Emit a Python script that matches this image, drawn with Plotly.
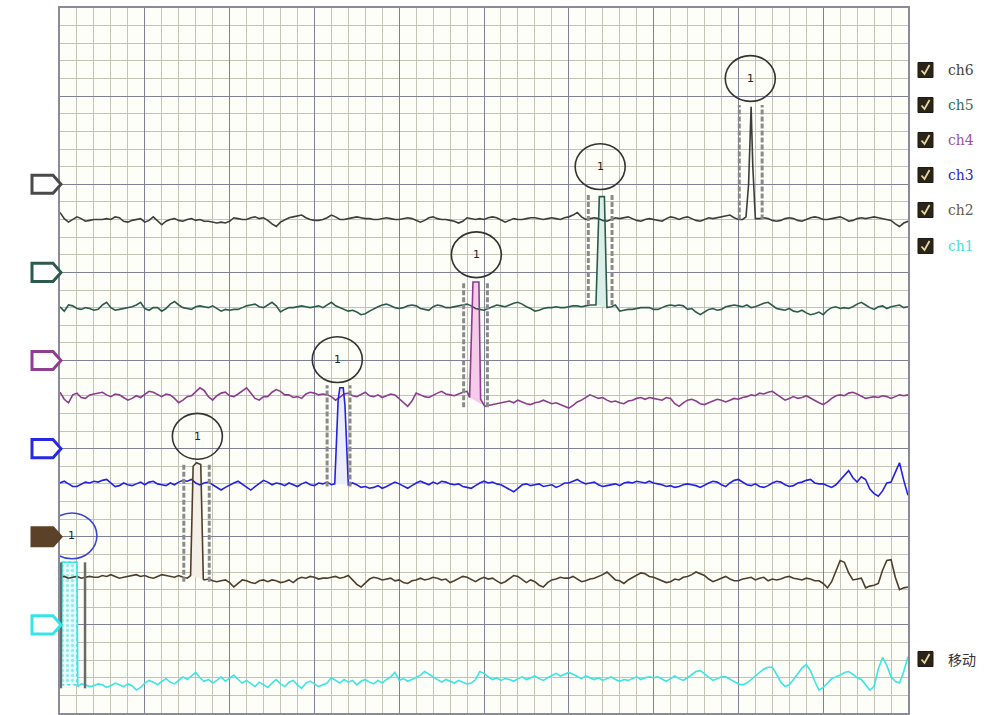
import plotly.graph_objects as go

# ---------------- data ----------------
# sample times (x axis units, 10 units per major division)
time = [i * 0.5 for i in range(201)]

channels = ["ch6", "ch5", "ch4", "ch3", "ch2", "ch1"]
baseline = {"ch6": 56.1, "ch5": 46.1, "ch4": 36.1, "ch3": 25.9, "ch2": 15.4, "ch1": 3.2}
marker_level = {"ch6": 60, "ch5": 50, "ch4": 40, "ch3": 30, "ch2": 20, "ch1": 10}

ch6_dev = [0.7, 0.0, -0.4, -0.1, 0.2, 0.0, -0.3, -0.2, -0.1, -0.1, -0.1, 0.0, -0.1, 0.2, 0.1, -0.3, -0.4, -0.2, -0.1, 0.0,
           -0.4, -0.2, 0.2, -0.3, -0.7, -0.3, -0.1, 0.0, -0.2, -0.3, -0.1, 0.0, -0.2, -0.1, -0.3, -0.3, -0.4, -0.5, -0.4, -0.5,
           -0.3, 0.1, 0.0, -0.1, -0.1, 0.1, 0.2, 0.0, 0.1, -0.2, -0.6, -0.9, -0.4, -0.1, 0.1, 0.2, 0.3, 0.4, 0.1, -0.1,
           -0.2, -0.2, -0.1, 0.1, 0.4, 0.2, -0.1, -0.1, 0.0, 0.1, 0.2, 0.1, 0.0, 0.0, -0.1, -0.1, 0.0, 0.1, 0.0, -0.1,
           -0.1, 0.0, 0.1, 0.0, -0.2, -0.4, -0.2, 0.1, 0.2, 0.0, -0.1, -0.1, -0.2, -0.3, -0.5, -0.3, 0.1, 0.0, -0.1, 0.0,
           -0.1, 0.1, 0.2, 0.1, -0.2, -0.4, -0.2, 0.0, -0.1, -0.1, 0.0, 0.1, 0.1, 0.0, -0.1, 0.0, 0.1, 0.0, -0.1, 0.1,
           0.2, 0.4, 0.7, 0.2, -0.1, 0.0, 0.1, 0.0, -0.2, -0.3, -0.1, 0.1, 0.0, 0.1, 0.2, 0.0, -0.2, -0.3, -0.1, 0.0,
           -0.1, -0.2, -0.3, 0.0, 0.2, 0.1, -0.1, 0.1, 0.2, 0.0, -0.2, -0.3, -0.1, 0.1, 0.0, 0.1, 0.2, 0.3, 0.4, 0.1,
           -0.1, -0.1, 0.0, 0.0, 0.1, 0.0, 0.1, 0.0, -0.2, -0.3, -0.2, 0.0, 0.1, 0.0, -0.2, -0.3, -0.1, 0.1, 0.2, 0.1,
           -0.1, -0.1, 0.0, 0.1, 0.2, 0.0, -0.3, -0.2, 0.0, 0.1, 0.0, 0.1, 0.2, 0.1, 0.0, -0.1, -0.2, -0.6, -0.9, -0.5, -0.3]

ch5_dev = [0.0, -0.5, 0.2, 0.1, -0.2, -0.3, -0.1, -0.2, -0.4, -0.3, 0.2, 0.5, -0.1, -0.4, -0.3, -0.2, -0.1, 0.0, 0.2, 0.5,
           -0.2, -0.4, -0.1, -0.1, -0.5, -0.2, 0.3, 0.6, 0.2, -0.1, -0.2, -0.3, 0.0, 0.1, 0.0, -0.1, 0.1, -0.2, -0.5, -0.3,
           -0.4, -0.3, -0.3, -0.1, 0.1, 0.2, 0.3, 0.0, -0.1, 0.2, 0.5, 0.1, -0.6, -0.3, -0.1, -0.1, 0.0, 0.1, 0.0, -0.1,
           0.0, 0.1, -0.1, 0.2, 0.5, 0.1, -0.1, -0.3, -0.5, -0.4, -0.6, -0.9, -0.8, -0.5, -0.2, 0.0, 0.2, 0.3, 0.1, -0.1,
           -0.2, -0.1, 0.1, 0.2, 0.1, -0.2, -0.3, -0.4, 0.0, 0.2, 0.1, -0.1, -0.1, 0.0, 0.1, 0.2, 0.3, 0.1, -0.2, -0.3,
           -0.4, -0.2, 0.0, 0.2, 0.1, 0.0, 0.2, 0.4, 0.5, 0.3, 0.0, -0.2, -0.5, -0.4, -0.2, -0.1, -0.1, 0.0, -0.1, -0.1,
           0.0, 0.1, 0.1, 0.0, 0.1, 0.2, 0.2, 0.1, 0.0, 0.0, 0.0, 0.2, -0.5, -0.4, -0.3, -0.3, -0.2, -0.1, -0.1, -0.1,
           -0.3, -0.3, -0.1, 0.1, 0.2, 0.1, 0.2, 0.1, -0.3, -0.2, -0.6, -0.9, -0.6, -0.3, -0.2, -0.4, -0.3, 0.0, 0.1, 0.2,
           0.1, 0.0, 0.2, -0.1, 0.0, 0.2, 0.4, 0.5, 0.1, -0.2, -0.3, -0.4, -0.2, -0.5, -0.6, -0.4, -0.7, -0.9, -0.8, -0.6,
           -0.9, -0.4, -0.1, 0.0, -0.2, -0.1, -0.2, 0.0, 0.3, 0.5, 0.2, -0.1, -0.3, 0.0, 0.1, -0.2, 0.0, 0.1, 0.2, -0.1, 0.0]

ch4_dev = [0.3, -0.5, -0.9, 0.0, 0.2, -0.3, -0.4, 0.0, 0.1, 0.2, 0.3, 0.0, -0.2, 0.1, 0.0, -0.3, -0.6, -0.4, -0.1, -0.3,
           0.1, 0.4, 0.3, 0.0, -0.2, 0.1, 0.0, -0.4, -0.9, -0.6, -0.2, -0.1, 0.3, 0.8, 0.5, -0.2, -0.6, -0.1, 0.2, 0.3,
           -0.1, -0.2, 0.1, 0.4, 0.8, 0.2, -0.4, -0.6, -0.2, -0.2, 0.3, 0.6, 0.4, 0.0, 0.0, -0.3, -0.2, -0.4, 0.1, 0.3,
           0.2, 0.0, 0.1, 0.0, -0.2, -0.6, -0.3, 0.1, 0.2, -0.1, -0.2, 0.1, 0.3, -0.1, -0.2, 0.0, -0.3, -0.1, 0.1, 0.0,
           -0.4, -0.8, -1.3, -0.7, 0.2, 0.0, -0.2, -0.3, 0.0, 0.2, 0.4, 0.1, 0.0, -0.1, 0.1, 0.3, 0.4, 0.2, 0.0, -1.0,
           -1.3, -1.2, -1.1, -1.0, -0.9, -0.8, -0.7, -0.9, -0.6, -0.8, -1.0, -1.1, -0.9, -0.8, -0.6, -0.8, -1.0, -0.9, -1.1, -1.3,
           -1.5, -1.2, -0.8, -0.6, -0.3, 0.0, -0.2, -0.4, -0.3, -0.6, -0.8, -0.7, -0.9, -1.0, -0.7, -0.6, -0.4, -0.3, -0.5, -0.3,
           -0.4, -0.5, -0.6, -0.3, -0.4, -1.0, -1.3, -0.9, -0.6, -0.5, -0.7, -1.0, -1.1, -0.9, -0.7, -0.5, -0.6, -0.8, -0.6, -0.4,
           -0.5, -0.3, -0.2, 0.0, -0.1, 0.2, 0.1, 0.3, 0.4, 0.1, -0.3, -0.6, -0.4, -0.2, -0.4, -0.3, -0.1, -0.4, -0.7, -0.9,
           -1.1, -0.8, -0.4, -0.1, 0.0, -0.1, 0.2, 0.3, 0.1, -0.2, -0.4, -0.3, -0.2, -0.3, -0.1, -0.2, -0.4, -0.2, 0.0, -0.1, 0.0]

ch3_dev = [0.2, 0.4, 0.1, -0.2, -0.2, 0.1, 0.3, 0.2, 0.4, 0.3, 0.5, 0.6, 0.2, -0.2, -0.1, 0.2, 0.0, -0.1, 0.1, 0.3,
           0.0, 0.3, 0.4, 0.1, 0.0, -0.1, 0.2, 0.0, 0.3, 0.5, 0.4, 0.6, 0.2, 0.0, 0.2, 0.3, 0.0, -0.3, -0.6, -0.3,
           0.0, 0.2, 0.4, 0.1, -0.3, -0.6, -0.2, 0.2, 0.5, 0.3, 0.0, 0.2, 0.1, -0.1, 0.2, 0.0, -0.2, 0.1, 0.3, 0.0,
           -0.1, 0.2, 0.1, 0.3, 0.0, 0.2, 0.1, 0.2, 0.1, 0.2, 0.0, -0.3, -0.2, -0.4, -0.3, -0.1, -0.4, -0.2, 0.1, 0.3,
           0.1, -0.2, -0.4, -0.1, 0.2, 0.4, 0.2, 0.0, 0.3, 0.1, 0.4, 0.3, 0.1, 0.0, 0.1, -0.2, -0.3, -0.4, -0.1, 0.2,
           0.4, 0.2, 0.3, 0.1, 0.0, -0.3, -0.6, -0.8, -0.4, 0.0, 0.1, -0.1, 0.0, 0.1, -0.2, -0.1, 0.0, -0.3, -0.1, 0.2,
           0.2, 0.4, 0.6, 0.3, 0.1, 0.2, 0.3, 0.0, -0.2, -0.1, 0.0, 0.1, -0.1, 0.2, 0.3, 0.2, 0.4, 0.3, 0.2, 0.4,
           0.2, 0.1, 0.0, -0.2, -0.1, -0.3, -0.2, 0.0, 0.1, 0.0, -0.1, -0.3, 0.0, 0.2, 0.4, 0.3, 0.0, -0.2, 0.2, 0.5,
           0.6, 0.3, 0.0, -0.1, 0.1, -0.2, -0.3, -0.1, 0.2, 0.4, 0.3, 0.0, -0.2, -0.1, 0.2, 0.3, 0.5, 0.6, 0.2, 0.1,
           0.1, -0.1, -0.3, 0.0, 0.5, 1.1, 1.6, 0.8, 0.3, 0.9, 0.6, -0.5, -1.0, -1.3, -0.7, 0.2, 0.3, 1.4, 2.5, 0.5, -1.2]

ch2_dev = [0.0, 0.1, -0.1, 0.0, 0.1, -0.1, 0.0, 0.1, 0.0, 0.0, 0.2, 0.1, 0.3, 0.1, -0.1, 0.0, 0.1, 0.2, 0.3, 0.1,
           0.2, 0.0, -0.1, 0.1, 0.3, 0.2, 0.1, 0.0, 0.2, 0.0, -0.1, 0.0, 0.0, 0.0, -0.3, -0.2, -0.4, -0.5, -0.4, -0.3,
           -0.6, -1.1, -0.7, -0.3, -0.4, -0.6, -0.7, -0.4, -0.3, -0.5, -0.3, -0.4, -0.6, -0.5, -0.3, -0.6, -0.2, 0.0, -0.1, 0.1,
           0.0, -0.2, -0.1, -0.1, 0.0, 0.1, -0.1, 0.0, 0.2, -0.3, -0.8, -1.1, -0.6, -0.2, 0.0, -0.1, -0.3, -0.2, -0.1, -0.4,
           -0.3, -0.6, -0.7, -0.4, -0.3, -0.1, -0.3, -0.2, 0.0, -0.1, -0.3, -0.2, -0.6, -0.4, -0.1, 0.1, 0.0, -0.3, -0.5, -0.2,
           0.0, -0.2, -0.1, -0.4, -0.7, -0.5, -0.1, 0.2, 0.1, -0.3, -0.6, -0.3, -0.5, -0.9, -1.1, -0.6, -0.3, -0.2, 0.0, -0.1,
           -0.1, 0.1, -0.2, -0.5, -0.4, -0.2, -0.1, 0.1, 0.3, 0.6, 0.2, -0.3, -0.4, -0.7, -0.3, 0.0, 0.2, 0.5, 0.4, 0.1,
           0.0, -0.2, -0.4, -0.6, -0.5, -0.2, -0.3, 0.0, 0.1, 0.3, 0.6, 0.4, 0.2, -0.2, -0.5, -0.3, -0.1, 0.1, -0.2, -0.4,
           -0.4, -0.2, -0.1, 0.0, -0.3, -0.1, 0.0, -0.4, -0.2, -0.3, -0.2, 0.0, 0.1, -0.1, -0.2, -0.3, -0.1, -0.2, -0.4, -0.4,
           -0.7, -1.2, -0.5, 0.6, 1.9, 1.7, 0.5, -0.3, -0.2, -0.1, -1.2, -1.0, -0.9, -0.7, 0.8, 1.9, 2.0, 0.0, -1.4, -1.2, -1.1]

ch1_dev = [0.2, 0.1, 0.0, 0.1, 0.0, 0.1, 0.0, -0.2, -0.1, 0.1, 0.0, -0.3, -0.1, 0.2, 0.0, -0.2, 0.1, -0.1, -0.6, -0.3,
           0.2, 0.5, 0.3, 0.0, 0.4, 0.7, 0.3, 0.1, 0.5, 0.9, 0.6, 1.0, 1.4, 0.8, 0.4, 0.6, 0.2, 0.5, 0.9, 0.4,
           0.7, 1.1, 0.6, 0.2, 0.5, 0.1, -0.2, 0.3, 0.0, -0.3, 0.2, 0.6, 0.1, -0.2, 0.3, 0.5, 0.0, -0.4, 0.2, 0.4,
           0.1, -0.2, 0.0, 0.2, 0.8, 0.5, 0.2, 0.6, 0.3, 0.5, 0.0, 0.4, 0.6, 0.3, 0.1, 0.5, 0.2, 0.6, 0.9, 1.4,
           0.5, 0.7, 0.4, 0.6, 0.9, 1.1, 1.5, 1.2, 0.9, 0.5, 0.3, 0.6, 0.4, 0.2, 0.5, 0.3, 0.1, 0.2, 0.6, 1.5,
           1.3, 0.9, 0.6, 0.8, 0.5, 0.7, 0.6, 0.4, 0.7, 0.9, 0.6, 0.8, 1.0, 0.7, 0.5, 0.8, 1.1, 1.3, 1.0, 1.2,
           1.4, 1.2, 0.9, 0.7, 1.0, 0.8, 0.6, 0.8, 0.5, 0.7, 0.9, 0.6, 0.4, 0.6, 0.5, 0.7, 0.9, 0.6, 0.8, 0.9,
           0.8, 0.9, 0.6, 0.4, 0.7, 1.0, 0.7, 0.5, 0.8, 1.2, 1.5, 1.6, 1.2, 0.8, 0.5, 0.7, 0.9, 0.9, 0.6, 0.3,
           0.1, 0.0, 0.2, 0.6, 1.0, 1.5, 1.8, 2.0, 2.0, 1.2, 0.3, -0.2, 0.0, 0.6, 1.3, 1.9, 2.3, 1.6, 0.4, -0.6,
           -0.3, 0.2, 0.7, 0.9, 1.1, 1.4, 1.5, 1.2, 0.8, 0.6, 0.0, -0.6, -0.2, 1.8, 3.1, 2.2, 0.9, 0.4, 0.2, 1.5, 3.2]

deviations = {"ch6": ch6_dev, "ch5": ch5_dev, "ch4": ch4_dev, "ch3": ch3_dev, "ch2": ch2_dev, "ch1": ch1_dev}

# marked events (spikes): x positions and absolute y values
spike_x = {"ch6": [80.9, 81.2, 81.4, 81.5, 81.7, 82.0],
           "ch5": [63.2, 63.6, 64.2, 64.5],
           "ch4": [48.3, 48.7, 49.4, 49.6, 50.1],
           "ch3": [32.4, 32.8, 33.0, 33.4, 33.6, 34.0],
           "ch2": [15.4, 15.7, 16.1, 16.6, 16.9],
           "ch1": [0.15, 0.25, 2.0, 2.1]}
spike_y = {"ch6": [56.3, 60.0, 68.0, 68.8, 62.0, 56.1],
           "ch5": [46.3, 58.6, 58.6, 46.0],
           "ch4": [35.8, 48.9, 48.9, 35.6, 34.8],
           "ch3": [26.0, 35.5, 36.9, 36.9, 35.0, 25.9],
           "ch2": [15.6, 28.0, 28.4, 28.2, 15.2],
           "ch1": [3.4, 17.1, 17.1, 3.0]}
event_label = {"ch6": "1", "ch5": "1", "ch4": "1", "ch3": "1", "ch2": "1", "ch1": "1"}
event_center = {"ch6": (81.4, 72.0), "ch5": (63.7, 62.0), "ch4": (49.1, 52.0),
                "ch3": (32.7, 40.1), "ch2": (16.2, 31.4), "ch1": (1.4, 20.1)}
event_bounds_x = {"ch6": (80.1, 82.8), "ch5": (62.3, 65.1), "ch4": (47.6, 50.4),
                  "ch3": (31.5, 34.2), "ch2": (14.6, 17.6), "ch1": (0.1, 2.95)}
event_bounds_y = {"ch6": (56.0, 69.0), "ch5": (46.3, 58.8), "ch4": (34.7, 48.9),
                  "ch3": (25.7, 37.2), "ch2": (14.9, 28.4), "ch1": (2.8, 17.1)}

legend_labels = ["ch6", "ch5", "ch4", "ch3", "ch2", "ch1"]
extra_label = "移动"

# ---------------- styles ----------------
W, H = 985, 715
PL, PR, PT, PB = 60, 908, 8, 713
line_color = {"ch6": "#3c3c3c", "ch5": "#2b5b4d", "ch4": "#8c3c8c", "ch3": "#2222e0",
              "ch2": "#4d3e2c", "ch1": "#3ae6e2"}
fill_color = {"ch6": "rgba(0,0,0,0)", "ch5": "#dceee8", "ch4": "#f5cbe9", "ch3": "#eceefd",
              "ch2": "#f4f0e8", "ch1": "#dcf8f8"}
marker_color = {"ch6": "#4a4a4a", "ch5": "#2d5a4e", "ch4": "#8e3f8e", "ch3": "#2727e6",
                "ch2": "#5a4128", "ch1": "#33e6e6"}
label_color = {"ch6": "#444444", "ch5": "#2e6e5e", "ch4": "#a052a0", "ch3": "#2a2ad0",
               "ch2": "#6b5a45", "ch1": "#44e0e0"}
legend_y_px = {"ch6": 70, "ch5": 105, "ch4": 140, "ch3": 175, "ch2": 210, "ch1": 246}
extra_y_px = 659


def px(xp, yp):
    return (xp - PL) / (PR - PL), (PB - yp) / (PB - PT)


def px_path(points, close=True):
    s = "M " + " L ".join("%.5f,%.5f" % px(a, b) for a, b in points)
    return s + (" Z" if close else "")


fig = go.Figure()
shapes = []
annotations = []

# spike fills (below lines)
for ch in channels:
    if ch == "ch1":
        fig.add_trace(go.Scatter(x=spike_x[ch][1:3] + spike_x[ch][1:3][::-1],
                                 y=[spike_y[ch][1], spike_y[ch][2], baseline[ch], baseline[ch]],
                                 fill="toself", mode="lines",
                                 line=dict(color="#40dede", width=1.5, dash="dot"),
                                 fillcolor="#e4fbfb",
                                 fillpattern=dict(shape=".", fgcolor="#4fd9d9", bgcolor="#e6fbfb",
                                                  size=5, solidity=0.35),
                                 hoverinfo="skip", showlegend=False))
    else:
        fig.add_trace(go.Scatter(x=spike_x[ch], y=spike_y[ch], fill="toself", mode="none",
                                 fillcolor=fill_color[ch], hoverinfo="skip", showlegend=False))

# traces
for ch in channels:
    ys = [baseline[ch] + d for d in deviations[ch]]
    sx, sy = spike_x[ch], spike_y[ch]
    pts = [(x, y) for x, y in zip(time, ys) if x < sx[0] or x > sx[-1]]
    pts += list(zip(sx, sy))
    pts.sort()
    fig.add_trace(go.Scatter(x=[p[0] for p in pts], y=[p[1] for p in pts], mode="lines",
                             line=dict(color=line_color[ch], width=1.6),
                             name=ch, showlegend=False, hoverinfo="skip"))

# event annotations: dashed bounds, circles, labels
for ch in channels:
    bx0, bx1 = event_bounds_x[ch]
    by0, by1 = event_bounds_y[ch]
    if ch == "ch1":
        for bx in (bx0, bx1):
            shapes.append(dict(type="line", xref="x", yref="y", x0=bx, x1=bx, y0=by0, y1=by1,
                               line=dict(color="#6a6a6a", width=2.5)))
        circ_col = "#3a48d0"
    else:
        for bx in (bx0, bx1):
            shapes.append(dict(type="line", xref="x", yref="y", x0=bx, x1=bx, y0=by0, y1=by1,
                               line=dict(color="#8a8a8a", width=3, dash="5px,2px")))
        circ_col = "#333333"
    cx, cy = event_center[ch]
    shapes.append(dict(type="circle", xref="x", yref="y", x0=cx - 2.95, x1=cx + 2.95,
                       y0=cy - 2.6, y1=cy + 2.6, line=dict(color=circ_col, width=1.6)))
    annotations.append(dict(x=cx, y=cy, xref="x", yref="y", text=event_label[ch], showarrow=False,
                            font=dict(family="DejaVu Sans", size=11, color="#222222")))

# channel markers on the left
for ch in channels:
    yc = PB - (marker_level[ch] / 80.0) * (PB - PT)
    pts = [(32, yc - 9), (53, yc - 9), (61, yc), (53, yc + 9), (32, yc + 9)]
    filled = ch == "ch2"
    shapes.append(dict(type="path", xref="paper", yref="paper", path=px_path(pts),
                       line=dict(color=marker_color[ch], width=3),
                       fillcolor=marker_color[ch] if filled else "white"))


# custom legend with checkboxes
def checkbox(yc):
    shapes.append(dict(type="path", xref="paper", yref="paper",
                       path=px_path([(918, yc - 7.5), (933, yc - 7.5), (933, yc + 7.5), (918, yc + 7.5)]),
                       line=dict(color="#1e1a14", width=1), fillcolor="#2b2419"))
    shapes.append(dict(type="path", xref="paper", yref="paper",
                       path=px_path([(921.5, yc + 0.5), (924.5, yc + 4), (929.5, yc - 5)], close=False),
                       line=dict(color="#e6d9a2", width=1.8)))


for ch in legend_labels:
    yc = legend_y_px[ch]
    checkbox(yc)
    xp, yp = px(946, yc)
    annotations.append(dict(x=xp, y=yp, xref="paper", yref="paper", text=ch, showarrow=False,
                            xanchor="left", yanchor="middle",
                            font=dict(family="DejaVu Serif", size=14, color=label_color[ch])))
checkbox(extra_y_px)
xp, yp = px(946, extra_y_px)
annotations.append(dict(x=xp, y=yp, xref="paper", yref="paper", text=extra_label, showarrow=False,
                        xanchor="left", yanchor="middle",
                        font=dict(family="Noto Sans CJK SC", size=14, color="#333333")))

axis_common = dict(showticklabels=False, ticks="", zeroline=False, showline=True, mirror=True,
                   linecolor="#8a8a9a", linewidth=1.5, showgrid=True, gridcolor="#808094",
                   gridwidth=1.3, fixedrange=True, showspikes=False)

fig.update_layout(
    width=W, height=H,
    margin=dict(l=PL, r=W - PR, t=PT, b=H - PB, pad=0, autoexpand=False),
    paper_bgcolor="white", plot_bgcolor="#fefef8",
    hovermode=False,
    xaxis=dict(range=[0, 100], tick0=0, dtick=10,
               minor=dict(dtick=2, showgrid=True, gridcolor="#c4c4b6", gridwidth=1.2),
               **axis_common),
    yaxis=dict(range=[0, 80], tick0=0, dtick=10,
               minor=dict(dtick=2, showgrid=True, gridcolor="#c4c4b6", gridwidth=1.2),
               **axis_common),
    shapes=shapes, annotations=annotations, showlegend=False,
)

fig.write_html("out.html",
               config={"displayModeBar": False},
               post_script="document.body.style.margin='0';document.body.style.overflow='hidden';")
